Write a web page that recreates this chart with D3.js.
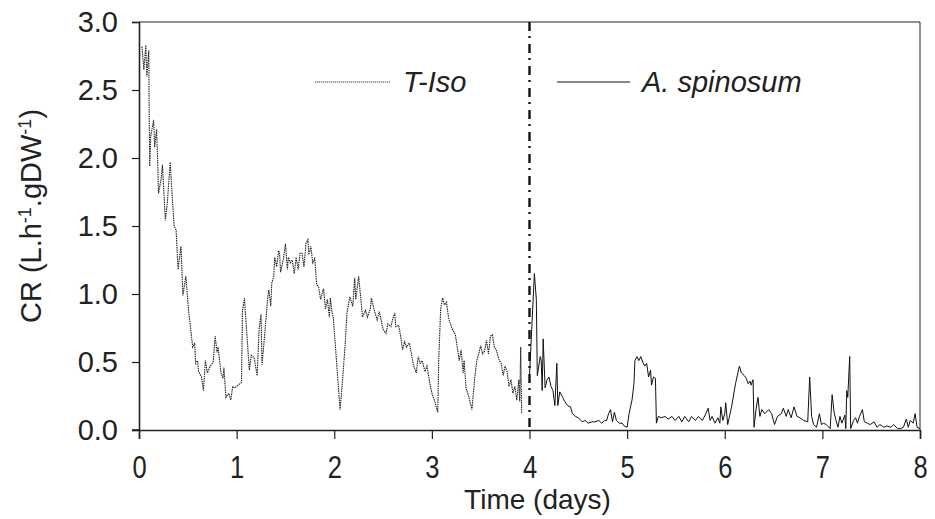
<!DOCTYPE html>
<html>
<head>
<meta charset="utf-8">
<script src="https://d3js.org/d3.v7.min.js"></script>
<style>
body { margin: 0; background: #fff; }
text { font-family: "Liberation Sans", Arial, sans-serif; fill: #222; }
</style>
</head>
<body>
<div id="chart"></div>
<script>
var svgwidth = 935;
var svgheight = 519;

var margin = {top: 22, right: 15, bottom: 89, left: 139};
var width = svgwidth - margin.left - margin.right;
var height = svgheight - margin.top - margin.bottom;

var xTicks = [0, 1, 2, 3, 4, 5, 6, 7, 8];
var yTicks = [0, 0.5, 1.0, 1.5, 2.0, 2.5, 3.0];
var switchDay = 4;

// T-Iso, [day, CR]
var tisoData = [
  [0.03,2.82],[0.05,2.65],[0.07,2.83],[0.08,2.60],[0.10,2.79],[0.105,2.26],[0.11,1.94],[0.12,2.16],
  [0.15,2.28],[0.16,2.08],[0.18,2.21],[0.19,2.01],[0.20,1.74],[0.23,1.86],[0.24,1.95],[0.27,1.54],
  [0.29,1.67],[0.32,1.97],[0.34,1.72],[0.36,1.50],[0.38,1.47],[0.40,1.18],[0.43,1.35],[0.45,0.99],
  [0.48,1.13],[0.51,0.86],[0.53,0.74],[0.55,0.61],[0.57,0.64],[0.58,0.49],[0.60,0.51],[0.61,0.43],
  [0.64,0.39],[0.66,0.29],[0.68,0.51],[0.70,0.42],[0.73,0.47],[0.76,0.50],[0.78,0.69],[0.80,0.57],
  [0.81,0.61],[0.84,0.42],[0.86,0.38],[0.87,0.46],[0.89,0.24],[0.92,0.27],[0.94,0.22],[0.96,0.32],
  [0.98,0.31],[1.05,0.35],[1.06,0.88],[1.08,0.97],[1.09,0.86],[1.13,0.44],[1.15,0.55],[1.18,0.53],
  [1.21,0.40],[1.23,0.74],[1.25,0.85],[1.26,0.48],[1.28,0.64],[1.30,0.81],[1.32,0.98],[1.33,1.03],
  [1.35,0.91],[1.36,1.08],[1.38,1.13],[1.39,1.27],[1.41,1.20],[1.43,1.32],[1.44,1.30],[1.45,1.16],
  [1.48,1.26],[1.50,1.37],[1.52,1.18],[1.53,1.27],[1.55,1.23],[1.57,1.25],[1.59,1.15],[1.61,1.27],
  [1.63,1.18],[1.65,1.30],[1.67,1.30],[1.69,1.20],[1.71,1.37],[1.73,1.40],[1.74,1.29],[1.76,1.35],
  [1.78,1.23],[1.80,1.26],[1.82,1.07],[1.84,1.05],[1.86,0.96],[1.89,1.04],[1.91,0.89],[1.93,0.96],
  [1.95,0.83],[1.96,0.97],[1.98,0.85],[1.99,0.83],[2.03,0.44],[2.06,0.15],[2.08,0.32],[2.11,0.61],
  [2.13,0.86],[2.16,0.98],[2.19,0.91],[2.21,1.12],[2.22,0.96],[2.25,1.13],[2.27,0.98],[2.29,0.83],
  [2.32,0.88],[2.34,0.83],[2.37,0.89],[2.38,0.97],[2.41,0.88],[2.44,0.81],[2.46,0.87],[2.48,0.81],
  [2.50,0.74],[2.53,0.71],[2.55,0.78],[2.58,0.76],[2.60,0.82],[2.62,0.86],[2.63,0.76],[2.66,0.77],
  [2.68,0.69],[2.70,0.59],[2.72,0.65],[2.74,0.61],[2.77,0.64],[2.79,0.56],[2.81,0.48],[2.84,0.42],
  [2.86,0.54],[2.88,0.49],[2.90,0.51],[2.93,0.43],[2.95,0.47],[2.98,0.34],[3.00,0.27],[3.03,0.21],
  [3.06,0.13],[3.07,0.51],[3.09,0.89],[3.11,0.97],[3.13,0.92],[3.15,0.94],[3.17,0.83],[3.19,0.78],
  [3.21,0.74],[3.24,0.70],[3.26,0.61],[3.28,0.51],[3.30,0.59],[3.32,0.42],[3.33,0.51],[3.35,0.31],
  [3.38,0.24],[3.41,0.15],[3.44,0.39],[3.46,0.51],[3.48,0.56],[3.50,0.62],[3.52,0.56],[3.54,0.58],
  [3.56,0.66],[3.58,0.56],[3.60,0.69],[3.62,0.70],[3.64,0.61],[3.66,0.59],[3.69,0.51],[3.71,0.49],
  [3.73,0.40],[3.75,0.47],[3.77,0.43],[3.79,0.32],[3.81,0.37],[3.83,0.27],[3.85,0.32],[3.87,0.22],
  [3.89,0.37],[3.90,0.21],[3.91,0.61],[3.92,0.12]
];

// A. spinosum, [day, CR]
var spinData = [
  [4.00,0.40],[4.05,1.15],[4.07,0.96],[4.08,0.40],[4.11,0.54],[4.12,0.51],[4.13,0.29],[4.14,0.67],
  [4.16,0.31],[4.18,0.37],[4.20,0.39],[4.22,0.32],[4.24,0.29],[4.26,0.18],[4.28,0.49],[4.29,0.18],
  [4.31,0.28],[4.34,0.24],[4.36,0.21],[4.39,0.18],[4.42,0.17],[4.44,0.12],[4.47,0.10],[4.50,0.09],
  [4.54,0.06],[4.57,0.07],[4.60,0.05],[4.64,0.06],[4.67,0.06],[4.71,0.07],[4.74,0.05],[4.77,0.07],
  [4.79,0.07],[4.81,0.12],[4.83,0.15],[4.85,0.06],[4.87,0.13],[4.89,0.07],[4.92,0.05],[4.95,0.05],
  [4.97,0.03],[5.00,0.02],[5.02,0.12],[5.05,0.22],[5.07,0.34],[5.08,0.51],[5.10,0.54],[5.12,0.51],
  [5.14,0.54],[5.16,0.50],[5.18,0.47],[5.20,0.49],[5.22,0.39],[5.24,0.44],[5.25,0.33],[5.27,0.39],
  [5.29,0.38],[5.30,0.05],[5.32,0.10],[5.35,0.09],[5.39,0.10],[5.42,0.08],[5.46,0.10],[5.49,0.07],
  [5.53,0.10],[5.56,0.06],[5.59,0.10],[5.63,0.06],[5.66,0.10],[5.70,0.07],[5.73,0.10],[5.77,0.07],
  [5.80,0.11],[5.83,0.16],[5.85,0.07],[5.87,0.10],[5.90,0.05],[5.93,0.09],[5.95,0.05],[5.96,0.17],
  [5.98,0.07],[6.00,0.12],[6.01,0.20],[6.03,0.04],[6.07,0.17],[6.11,0.34],[6.15,0.47],[6.17,0.42],
  [6.20,0.40],[6.22,0.38],[6.24,0.34],[6.26,0.36],[6.27,0.33],[6.29,0.37],[6.30,0.02],[6.32,0.15],
  [6.34,0.24],[6.36,0.10],[6.38,0.15],[6.41,0.12],[6.45,0.15],[6.48,0.12],[6.51,0.04],[6.54,0.10],
  [6.58,0.12],[6.60,0.16],[6.63,0.10],[6.65,0.15],[6.68,0.09],[6.71,0.17],[6.74,0.10],[6.77,0.09],
  [6.81,0.07],[6.85,0.06],[6.87,0.39],[6.89,0.10],[6.91,0.04],[6.94,0.02],[6.97,0.12],[6.99,0.04],
  [7.01,0.05],[7.04,0.04],[7.08,0.01],[7.10,0.26],[7.12,0.13],[7.14,0.07],[7.16,0.02],[7.18,0.10],
  [7.20,0.05],[7.23,0.11],[7.24,0.01],[7.25,0.29],[7.26,0.24],[7.28,0.54],[7.29,0.01],[7.32,0.07],
  [7.34,0.09],[7.36,0.05],[7.38,0.10],[7.41,0.15],[7.43,0.06],[7.46,0.05],[7.49,0.04],[7.53,0.06],
  [7.56,0.02],[7.59,0.04],[7.63,0.02],[7.66,0.03],[7.70,0.02],[7.73,0.04],[7.77,0.01],[7.80,0.01],
  [7.83,0.02],[7.86,0.08],[7.88,0.02],[7.90,0.07],[7.93,0.05],[7.95,0.12],[7.97,0.02],[8.00,0.01]
];

var svg = d3.select("#chart")
  .append("svg")
  .attr("width", svgwidth)
  .attr("height", svgheight);

var chartgroup = svg.append("g")
  .attr("transform", `translate(${margin.left}, ${margin.top})`);

var xscale = d3.scaleLinear().domain([0, 8]).range([0, width]);
var yscale = d3.scaleLinear().domain([0, 3]).range([height, 0]);

// frame top / right
chartgroup.append("line")
  .attr("x1", 0).attr("x2", width).attr("y1", 0).attr("y2", 0)
  .attr("stroke", "#222").attr("stroke-width", 1);
chartgroup.append("line")
  .attr("x1", width).attr("x2", width).attr("y1", 0).attr("y2", height)
  .attr("stroke", "#222").attr("stroke-width", 1);

var bottomaxis = d3.axisBottom(xscale)
  .tickValues(xTicks)
  .tickFormat(d3.format("d"))
  .tickSize(9)
  .tickPadding(14);

var leftaxis = d3.axisLeft(yscale)
  .tickValues(yTicks)
  .tickFormat(d3.format(".1f"))
  .tickSize(7)
  .tickPadding(14);

var xaxis = chartgroup.append("g")
  .attr("transform", `translate(0, ${height})`)
  .call(bottomaxis);

var yaxis = chartgroup.append("g")
  .call(leftaxis);

[xaxis, yaxis].forEach(function(ax) {
  ax.select(".domain").attr("stroke", "#222").attr("stroke-width", 1.6);
  ax.selectAll(".tick line").attr("stroke", "#222").attr("stroke-width", 1.2);
  ax.selectAll(".tick text")
    .style("font-family", '"Liberation Sans", Arial, sans-serif')
    .style("font-size", "29px")
    .attr("fill", "#222");
});

// x tick labels are a little narrow and tall in the original
xaxis.selectAll(".tick text")
  .attr("y", 0).attr("dy", 0)
  .attr("transform", "translate(0, 48) scale(0.88, 1.08)");

// bottom axis line extends to the left, like the 0.0 tick
chartgroup.append("line")
  .attr("x1", -7).attr("x2", 0).attr("y1", height).attr("y2", height)
  .attr("stroke", "#222").attr("stroke-width", 1.6);

var line = d3.line()
  .x(function(d) { return xscale(d[0]); })
  .y(function(d) { return yscale(d[1]); });

chartgroup.append("path")
  .datum(tisoData)
  .attr("d", line)
  .attr("fill", "none")
  .attr("stroke", "#222")
  .attr("stroke-width", 1.1)
  .attr("stroke-dasharray", "1.5,0.8");

chartgroup.append("path")
  .datum(spinData)
  .attr("d", line)
  .attr("fill", "none")
  .attr("stroke", "#111")
  .attr("stroke-width", 1);

// switch from T-Iso to A. spinosum
chartgroup.append("line")
  .attr("x1", xscale(switchDay)).attr("x2", xscale(switchDay))
  .attr("y1", 0).attr("y2", height)
  .attr("stroke", "#111")
  .attr("stroke-width", 2.4)
  .attr("stroke-dasharray", "9,5,2,6");

// legend
var legend = svg.append("g");
legend.append("line")
  .attr("x1", 315).attr("x2", 390).attr("y1", 82).attr("y2", 82)
  .attr("stroke", "#333").attr("stroke-width", 1).attr("stroke-dasharray", "1.2,0.8");
legend.append("text")
  .attr("x", 403).attr("y", 92)
  .style("font-size", "29px").style("font-style", "italic")
  .text("T-Iso");
legend.append("line")
  .attr("x1", 557).attr("x2", 630).attr("y1", 82).attr("y2", 82)
  .attr("stroke", "#111").attr("stroke-width", 1);
legend.append("text")
  .attr("x", 642).attr("y", 92)
  .style("font-size", "29px").style("font-style", "italic")
  .text("A. spinosum");

// axis titles
svg.append("text")
  .attr("x", margin.left + xscale(4) + 8)
  .attr("y", 509)
  .attr("text-anchor", "middle")
  .style("font-size", "28px")
  .text("Time (days)");

var ytitle = svg.append("text")
  .attr("transform", "translate(41, 216) rotate(-90)")
  .attr("text-anchor", "middle")
  .style("font-size", "29px");
ytitle.append("tspan").text("CR (L.h");
ytitle.append("tspan").attr("baseline-shift", "super").style("font-size", "18px").text("-1");
ytitle.append("tspan").text(".gDW");
ytitle.append("tspan").attr("baseline-shift", "super").style("font-size", "18px").text("-1");
ytitle.append("tspan").text(")");
</script>
</body>
</html>
